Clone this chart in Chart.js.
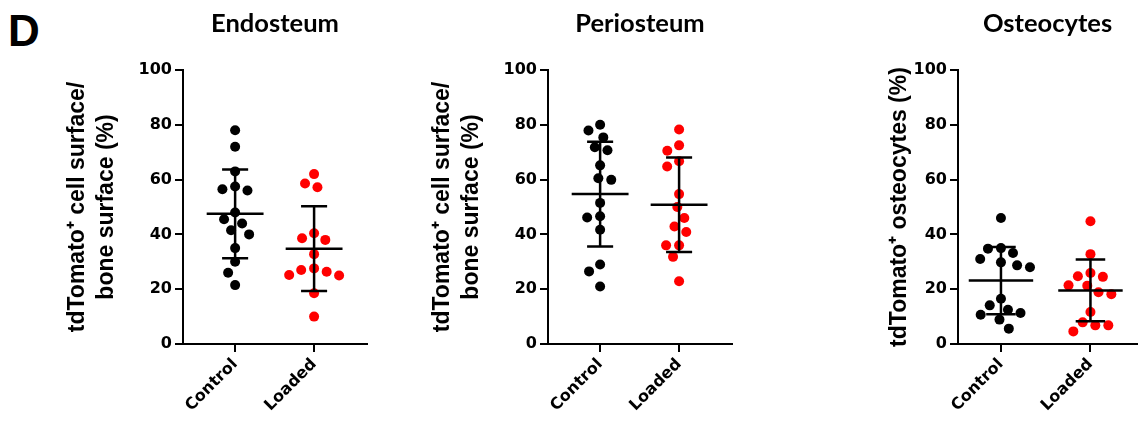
<!DOCTYPE html>
<html>
<head>
<meta charset="utf-8">
<script src="https://cdn.jsdelivr.net/npm/chart.js@4/dist/chart.umd.min.js"></script>
<style>
  body { margin: 0; background: #fff; }
  #wrap { position: relative; width: 1142px; height: 423px; overflow: hidden; }
  canvas { position: absolute; top: 0; }
  #panelLetter { position: absolute; left: 8px; top: 9px; font: bold 44px "Liberation Sans", Arial, sans-serif; line-height: 1; color: #000; }
</style>
</head>
<body>
<div id="wrap">
  <div id="panelLetter">D</div>
  <canvas id="endo" width="380" height="423" style="left:0px"></canvas>
  <canvas id="perio" width="380" height="423" style="left:365px"></canvas>
  <canvas id="osteo" width="367" height="423" style="left:775px"></canvas>
</div>
<script>
// groups on the x axis
const groups = ['Control', 'Loaded'];

// Endosteum (% of bone surface)
const endoControl = [78, 72, 63, 57.5, 56, 56.5, 48, 44, 45.5, 40, 41.5, 35, 30, 26, 21.5];
const endoLoaded = [62, 57.2, 58.6, 40.4, 38, 38.6, 32.8, 27.6, 27, 25.2, 26.4, 25, 18.5, 10];
const endoMean = [47.5, 34.8];
const endoSd = [16.2, 15.5];

// Periosteum (% of bone surface)
const perioControl = [80, 77.9, 75.4, 70.7, 71.8, 65.2, 59.9, 60.5, 51.5, 46.2, 46.6, 41.7, 29, 26.5, 21];
const perioLoaded = [78.3, 72.5, 70.5, 66.7, 64.8, 54.7, 50, 46, 42.9, 40.9, 36, 36, 31.8, 22.9];
const perioMean = [54.7, 50.85];
const perioSd = [19.1, 17.25];

// Osteocytes (% tdTomato+ osteocytes)
const osteoControl = [46, 34.8, 35, 33.2, 31, 28.7, 29.8, 28, 16.5, 14.1, 12.5, 11.3, 10.7, 8.9, 5.6];
const osteoLoaded = [44.8, 32.8, 24.5, 25.9, 24.7, 21.4, 21.3, 18.2, 18.9, 11.7, 7.9, 6.8, 6.8, 4.6];
const osteoMean = [23.15, 19.55];
const osteoSd = [12.25, 11.25];

const dotColors = ['#000000', '#ff0000'];

// spread the dots sideways so they don't sit on top of each other (beeswarm)
function swarmOffsets(values, yScale, gap) {
  const idx = values.map((v, i) => i).sort((a, b) => values[b] - values[a]);
  const placed = [];
  const offsets = [];
  idx.forEach(i => {
    const py = yScale.getPixelForValue(values[i]);
    const blocked = [];
    placed.forEach(p => {
      const dy = Math.abs(p.y - py);
      if (dy < gap) {
        const w = Math.sqrt(gap * gap - dy * dy);
        blocked.push([p.x - w, p.x + w]);
      }
    });
    const options = [0];
    blocked.forEach(b => options.push(b[0], b[1]));
    options.sort((a, b) => Math.abs(a) - Math.abs(b));
    const px = options.find(o => blocked.every(b => o <= b[0] + 0.01 || o >= b[1] - 0.01));
    placed.push({ x: px, y: py });
    offsets[i] = px;
  });
  return offsets;
}

// mean line + SD whiskers, as one line dataset with gaps
function errorBarData(means, sds) {
  const pts = [];
  means.forEach((m, g) => {
    const c = g + 1;
    const s = sds[g];
    pts.push({ x: c - 0.36, y: m }, { x: c + 0.36, y: m }, { x: c, y: null });
    pts.push({ x: c, y: m - s }, { x: c, y: m + s }, { x: c, y: null });
    pts.push({ x: c - 0.165, y: m + s }, { x: c + 0.165, y: m + s }, { x: c, y: null });
    pts.push({ x: c - 0.165, y: m - s }, { x: c + 0.165, y: m - s }, { x: c, y: null });
  });
  return pts;
}

function makePanel(id, title, yTitle, series, means, sds, xMin, xMax, yTitlePad) {
  const canvas = document.getElementById(id);
  const chart = new Chart(canvas.getContext('2d'), {
    type: 'scatter',
    data: {
      datasets: [
        ...series.map((vals, g) => ({
          label: groups[g],
          data: vals.map(v => ({ x: g + 1, y: v })),
          backgroundColor: dotColors[g],
          borderWidth: 0,
          pointRadius: 5,
          pointHoverRadius: 5,
          order: 1
        })),
        {
          label: 'Mean ± SD',
          data: errorBarData(means, sds),
          showLine: true,
          spanGaps: false,
          borderColor: '#000',
          borderWidth: 2.5,
          borderCapStyle: 'butt',
          pointRadius: 0,
          pointHoverRadius: 0,
          fill: false,
          order: 0
        }
      ]
    },
    options: {
      responsive: false,
      devicePixelRatio: 1,
      animation: false,
      events: [],
      layout: { padding: { left: 0, right: canvas.width - 367 + (id === 'osteo' ? -2 : 0), top: 0, bottom: 0 } },
      plugins: {
        legend: { display: false },
        tooltip: { enabled: false },
        title: {
          display: true,
          text: title,
          fullSize: false,
          color: '#000',
          font: { family: 'Lato', size: 25.5, weight: 'bold', lineHeight: 1.2 },
          padding: { top: 8, bottom: 31.4 }
        }
      },
      scales: {
        x: {
          type: 'linear',
          min: xMin,
          max: xMax,
          afterBuildTicks: scale => { scale.ticks = groups.map((g, i) => ({ value: i + 1 })); },
          afterFit: scale => { scale.height = 79; },
          ticks: {
            autoSkip: false,
            minRotation: 45,
            maxRotation: 45,
            padding: 3,
            color: '#000',
            font: { family: 'DejaVu Sans', size: 16, weight: 'bold' },
            callback: v => groups[v - 1]
          },
          grid: { display: true, drawOnChartArea: false, drawTicks: true, tickLength: 8, color: '#000', lineWidth: 2 },
          border: { display: true, color: '#000', width: 2 }
        },
        y: {
          min: 0,
          max: 100,
          afterFit: scale => { scale.width = 183; },
          ticks: {
            stepSize: 20,
            padding: 3,
            color: '#000',
            font: { family: 'DejaVu Sans', size: 16, weight: 'bold' }
          },
          grid: { display: true, drawOnChartArea: false, drawTicks: true, tickLength: 8, color: '#000', lineWidth: 2 },
          border: { display: true, color: '#000', width: 2 },
          title: {
            display: true,
            text: yTitle,
            color: '#000',
            font: { family: 'Liberation Sans', size: 23, weight: 'bold', lineHeight: 1.27 },
            padding: { top: yTitlePad, bottom: 0 }
          }
        }
      }
    }
  });

  // now that the scales exist, jitter the dots horizontally
  const xs = chart.scales.x, ys = chart.scales.y;
  const unit = xs.getPixelForValue(1) - xs.getPixelForValue(0);
  series.forEach((vals, g) => {
    const off = swarmOffsets(vals, ys, 13);
    chart.data.datasets[g].data = vals.map((v, i) => ({ x: g + 1 + off[i] / unit, y: v }));
  });
  chart.update();
  return chart;
}

makePanel('endo', 'Endosteum', ['tdTomato\u207A cell surface/', 'bone surface (%)'],
  [endoControl, endoLoaded], endoMean, endoSd, 0.34, 2.67, 63);
makePanel('perio', 'Periosteum', ['tdTomato\u207A cell surface/', 'bone surface (%)'],
  [perioControl, perioLoaded], perioMean, perioSd, 0.34, 2.67, 63);
makePanel('osteo', 'Osteocytes', 'tdTomato\u207A osteocytes (%)',
  [osteoControl, osteoLoaded], osteoMean, osteoSd, 0.52, 2.52, 110);
</script>
</body>
</html>
